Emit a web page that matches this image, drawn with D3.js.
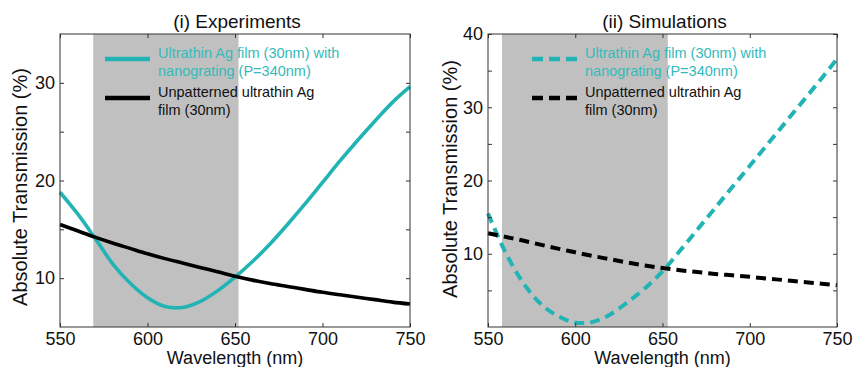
<!DOCTYPE html>
<html>
<head>
<meta charset="utf-8">
<script src="https://cdn.jsdelivr.net/npm/d3@7"></script>
<style>
  html, body { margin: 0; padding: 0; background: #fff; }
  svg { display: block; font-family: "Liberation Sans", Arial, sans-serif; }
</style>
</head>
<body>
<svg id="chart" width="857" height="367"></svg>
<script>
// Wavelength grid (nm)
const wavelength = [550, 560, 570, 580, 590, 600, 610, 620, 630, 640, 650,
                    660, 670, 680, 690, 700, 710, 720, 730, 740, 750];

// (i) Experiments — absolute transmission (%)
const expGrating = [18.8, 16.6, 14.1, 11.5, 9.5, 8.0, 7.1, 7.0, 7.6, 8.7, 10.1,
                    11.7, 13.5, 15.5, 17.6, 19.8, 22.0, 24.1, 26.1, 28.0, 29.6];
const expPlain   = [15.5, 14.85, 14.2, 13.6, 13.05, 12.5, 12.0, 11.55, 11.1, 10.65, 10.2,
                    9.8, 9.45, 9.15, 8.85, 8.55, 8.3, 8.05, 7.8, 7.55, 7.35];

// (ii) Simulations — absolute transmission (%)
const simGrating = [15.5, 10.2, 6.1, 3.2, 1.5, 0.6, 0.7, 1.7, 3.4, 5.3, 7.6,
                    10.4, 13.3, 16.2, 19.1, 22.0, 24.9, 27.8, 30.7, 33.6, 36.6];
const simPlain   = [12.8, 12.3, 11.8, 11.25, 10.7, 10.2, 9.7, 9.25, 8.8, 8.4, 8.05,
                    7.75, 7.5, 7.25, 7.05, 6.85, 6.6, 6.4, 6.15, 5.95, 5.7];

// Shaded wavelength bands
const expBand = [569, 652];
const simBand = [558, 653];

const xTicks = [550, 600, 650, 700, 750];
const expYTicks = [10, 15, 20, 25, 30];
const simYTicks = [5, 10, 15, 20, 25, 30, 35, 40];

const legendLabels = [
  ["Ultrathin Ag film (30nm) with", "nanograting (P=340nm)"],
  ["Unpatterned ultrathin Ag", "film (30nm)"]
];

const CYAN = "#22b4b4";
const BLACK = "#000";
const SHADE = "#c0c0c0";

const svg = d3.select("#chart");

function panel(opts) {
  const { left, right, top, bottom, yDomain, yTicks, band, series, dash, title, ylabelX, ylabelY, legendX } = opts;
  const x = d3.scaleLinear().domain([550, 750]).range([left, right]);
  const y = d3.scaleLinear().domain(yDomain).range([bottom, top]);
  const g = svg.append("g");

  // shaded band
  g.append("rect")
    .attr("x", x(band[0])).attr("y", top)
    .attr("width", x(band[1]) - x(band[0])).attr("height", bottom - top)
    .attr("fill", SHADE);

  // curves
  const line = d3.line().x((d, i) => x(wavelength[i])).y(d => y(d)).curve(d3.curveCatmullRom.alpha(0.5));
  series.forEach(s => {
    g.append("path")
      .datum(s.values)
      .attr("d", line)
      .attr("fill", "none")
      .attr("stroke", s.color)
      .attr("stroke-width", dash ? 4 : 3.6)
      .attr("stroke-dasharray", dash ? "10,6" : null)
      .attr("stroke-linejoin", "round");
  });

  // axes with inward ticks
  const fmt = d => (d % 10 === 0 ? d : "");
  const xb = g.append("g").attr("transform", `translate(0,${bottom})`)
    .call(d3.axisBottom(x).tickValues(xTicks).tickSize(-4).tickPadding(5));
  const xt = g.append("g").attr("transform", `translate(0,${top})`)
    .call(d3.axisTop(x).tickValues(xTicks).tickSize(-4).tickFormat(""));
  const yl = g.append("g").attr("transform", `translate(${left},0)`)
    .call(d3.axisLeft(y).tickValues(yTicks).tickSize(-4).tickPadding(5).tickFormat(fmt));
  const yr = g.append("g").attr("transform", `translate(${right},0)`)
    .call(d3.axisRight(y).tickValues(yTicks).tickSize(-4).tickFormat(""));
  [xb, xt, yl, yr].forEach(a => {
    a.select(".domain").remove();
    a.selectAll("line").attr("stroke", "#333");
    a.selectAll("text").attr("font-size", 18).attr("fill", "#111")
      .attr("font-family", '"Liberation Sans", Arial, sans-serif');
  });

  // frame
  g.append("rect")
    .attr("x", left).attr("y", top)
    .attr("width", right - left).attr("height", bottom - top)
    .attr("fill", "none").attr("stroke", "#333").attr("stroke-width", 1);

  // title
  g.append("text")
    .attr("x", (left + right) / 2 + 2).attr("y", 28)
    .attr("text-anchor", "middle").attr("font-size", 19).attr("fill", "#111")
    .text(title);

  // axis labels
  g.append("text")
    .attr("x", (left + right) / 2).attr("y", 364)
    .attr("text-anchor", "middle").attr("font-size", 18).attr("fill", "#111")
    .text("Wavelength (nm)");
  g.append("text")
    .attr("transform", `translate(${ylabelX},${ylabelY}) rotate(-90)`)
    .attr("text-anchor", "middle").attr("font-size", 20).attr("fill", "#111")
    .text("Absolute Transmission (%)");

  // legend
  const leg = g.append("g");
  series.forEach((s, i) => {
    const ly = 59 + i * 39;
    leg.append("line")
      .attr("x1", legendX).attr("x2", legendX + 45)
      .attr("y1", ly).attr("y2", ly)
      .attr("stroke", s.color).attr("stroke-width", 4.5)
      .attr("stroke-dasharray", dash ? "11,6" : null);
    legendLabels[i].forEach((t, j) => {
      leg.append("text")
        .attr("x", legendX + 53).attr("y", ly - 1 + j * 18)
        .attr("font-size", 14.5).attr("fill", i === 0 ? "#35baba" : "#111")
        .text(t);
    });
  });
}

panel({
  left: 60, right: 410, top: 34, bottom: 327,
  yDomain: [5, 35], yTicks: expYTicks, band: expBand,
  series: [{ values: expGrating, color: CYAN }, { values: expPlain, color: BLACK }],
  dash: false, title: "(i) Experiments",
  ylabelX: 27, ylabelY: 187, legendX: 105
});

panel({
  left: 488, right: 837, top: 34, bottom: 327,
  yDomain: [0, 40], yTicks: simYTicks, band: simBand,
  series: [{ values: simGrating, color: CYAN }, { values: simPlain, color: BLACK }],
  dash: true, title: "(ii) Simulations",
  ylabelX: 457, ylabelY: 179, legendX: 532
});
</script>
</body>
</html>
